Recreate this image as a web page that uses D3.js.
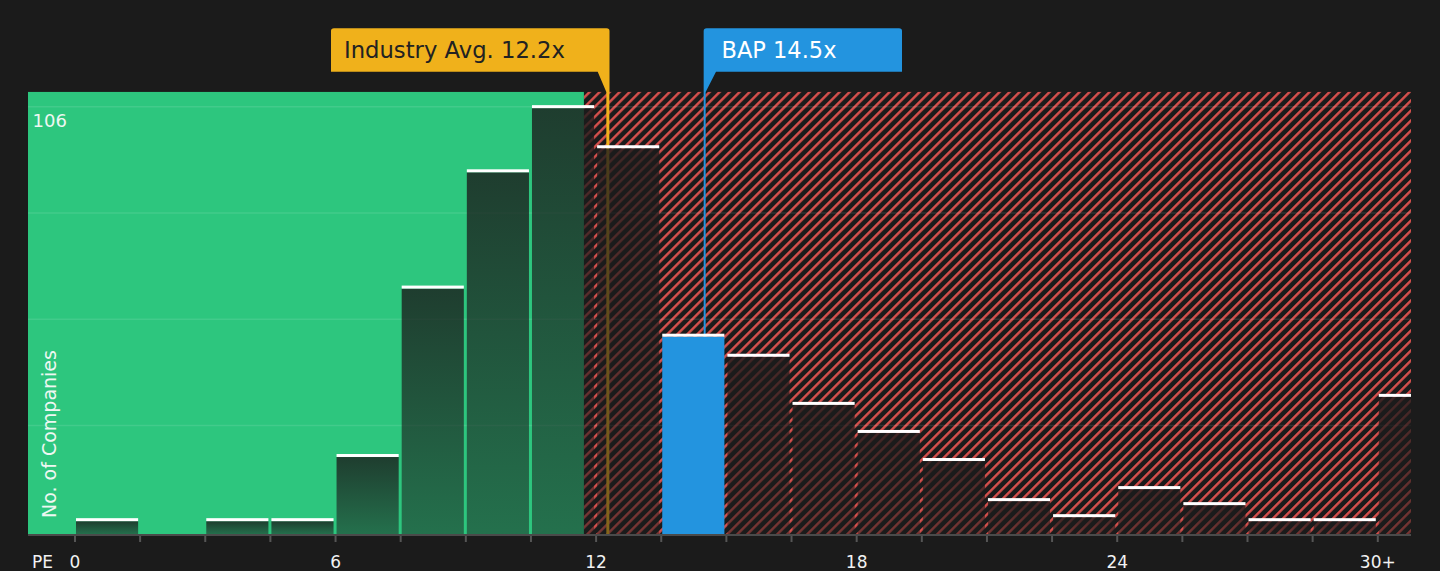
<!DOCTYPE html>
<html>
<head>
<meta charset="utf-8">
<script src="https://cdn.jsdelivr.net/npm/d3@7"></script>
<style>
  html, body { margin: 0; padding: 0; background: #1b1b1b; }
  svg { display: block; }
  text { font-family: "DejaVu Sans", sans-serif; }
</style>
</head>
<body>
<script>
// ---- data ----
const binStarts = [0,1.5,3,4.5,6,7.5,9,10.5,12,13.5,15,16.5,18,19.5,21,22.5,24,25.5,27,28.5,30];
const counts    = [3,0,3,3,19,61,90,106,96,49,44,32,25,18,8,4,11,7,3,3,34];
const binWidth = 1.5;
const tickValues = [0,6,12,18,24,30];
const tickLabels = ["0","6","12","18","24","30+"];
const industryAvg = 12.27;
const industryLabel = "Industry Avg. 12.2x";
const companyPE = 14.5;
const companyLabel = "BAP 14.5x";
const companyBinIndex = 9;
const fairThreshold = 11.72;
const yMaxLabel = 106;
const yAxisTitle = "No. of Companies";
const xAxisTitle = "PE";

// ---- layout ----
const W = 1440, H = 571;
const plot = { left: 28, right: 1411, top: 91.7, bottom: 533.2 };

const svg = d3.select("body").append("svg").attr("width", W).attr("height", H);
svg.append("rect").attr("width", W).attr("height", H).attr("fill", "#1b1b1b");

const x = d3.scaleLinear().domain([-1.082, 30.765]).range([plot.left, plot.right]);
const y = d3.scaleLinear().domain([0, 110.1]).range([plot.bottom, plot.top]);

const defs = svg.append("defs");
defs.append("clipPath").attr("id", "plotclip")
  .append("rect").attr("x", plot.left).attr("y", plot.top)
  .attr("width", plot.right - plot.left).attr("height", 536 - plot.top);

const pat = defs.append("pattern").attr("id", "hatch")
  .attr("patternUnits", "userSpaceOnUse").attr("width", 7.07).attr("height", 7.07)
  .attr("patternTransform", "rotate(45)");
pat.append("rect").attr("width", 7.07).attr("height", 7.07).attr("fill", "#1b1b1b");
pat.append("rect").attr("x", 0).attr("y", 0).attr("width", 2.4).attr("height", 7.07).attr("fill", "#d9504d");

const grad = defs.append("linearGradient").attr("id", "barGrad")
  .attr("x1", 0).attr("y1", 0).attr("x2", 0).attr("y2", 1);
grad.append("stop").attr("offset", "0%").attr("stop-color", "#1b1b1b").attr("stop-opacity", 0.8);
grad.append("stop").attr("offset", "100%").attr("stop-color", "#1b1b1b").attr("stop-opacity", 0.5);

const g = svg.append("g").attr("clip-path", "url(#plotclip)");

// background regions
g.append("rect").attr("x", plot.left).attr("y", plot.top)
  .attr("width", x(fairThreshold) - plot.left).attr("height", 534.5 - plot.top)
  .attr("fill", "#2dc67e");
g.append("rect").attr("x", x(fairThreshold)).attr("y", plot.top)
  .attr("width", plot.right - x(fairThreshold)).attr("height", 534.5 - plot.top)
  .attr("fill", "url(#hatch)");

// gridlines
const gridVals = [1,2,3,4].map(i => yMaxLabel * i / 4);
g.selectAll("line.grid").data(gridVals).enter().append("line")
  .attr("x1", plot.left).attr("x2", plot.right)
  .attr("y1", d => y(d) - 1.5).attr("y2", d => y(d) - 1.5)
  .attr("stroke", "#ffffff").attr("stroke-opacity", 0.1).attr("stroke-width", 1.5);

// industry average line (under bars)
g.append("line")
  .attr("x1", x(industryAvg)).attr("x2", x(industryAvg))
  .attr("y1", plot.top).attr("y2", 534.5)
  .attr("stroke", "#f0b11b").attr("stroke-width", 3);

// company line
g.append("line")
  .attr("x1", x(companyPE)).attr("x2", x(companyPE))
  .attr("y1", plot.top).attr("y2", y(counts[companyBinIndex]))
  .attr("stroke", "#2394df").attr("stroke-width", 2);

// bars
const bins = binStarts.map((b, i) => ({ b, v: counts[i], i }));
const shown = bins.filter(d => d.v > 0);
g.selectAll("rect.bar").data(shown).enter().append("rect")
  .attr("x", d => x(d.b) + 1)
  .attr("width", d => x(d.b + binWidth) - x(d.b) - 3)
  .attr("y", d => y(d.v))
  .attr("height", d => y(0) + 1.3 - y(d.v))
  .attr("fill", d => d.i === companyBinIndex ? "#2394df" : "url(#barGrad)");

g.selectAll("rect.top").data(shown).enter().append("rect")
  .attr("x", d => x(d.b) + 1)
  .attr("width", d => x(d.b + binWidth) - x(d.b) - 3)
  .attr("y", d => y(d.v) - 3)
  .attr("height", 3)
  .attr("fill", "#ffffff");

// axis
svg.append("line").attr("x1", plot.left).attr("x2", plot.right)
  .attr("y1", 535).attr("y2", 535).attr("stroke", "#4a4a4a").attr("stroke-width", 2);
svg.selectAll("line.tick").data(binStarts).enter().append("line")
  .attr("x1", d => x(d)).attr("x2", d => x(d))
  .attr("y1", 536).attr("y2", 542)
  .attr("stroke", "#555555").attr("stroke-width", 2);
svg.selectAll("text.tl").data(tickValues).enter().append("text")
  .attr("x", d => x(d)).attr("y", 567.5)
  .attr("text-anchor", "middle").attr("font-size", 17).attr("fill", "#f2f2f2")
  .text((d, i) => tickLabels[i]);
svg.append("text").attr("x", 32).attr("y", 567.5).attr("font-size", 17)
  .attr("fill", "#f2f2f2").text(xAxisTitle);

// y labels
svg.append("text").attr("x", 32.5).attr("y", 126.7).attr("font-size", 18)
  .attr("fill", "#eef7f2").text(yMaxLabel);
svg.append("text").attr("transform", "translate(55.5,518) rotate(-90)")
  .attr("font-size", 19).attr("fill", "#eef7f2").text(yAxisTitle);

// annotations
const ax = x(industryAvg);
const ann1 = svg.append("g");
ann1.append("path")
  .attr("d", `M331,71.7 L331,31 Q331,28.3 334,28.3 L606.5,28.3 Q609.5,28.3 609.5,31 L609.5,92 L${ax - 1.5},92 L597.7,71.7 Z`)
  .attr("fill", "#f0b11b");
ann1.append("text").attr("x", 344).attr("y", 57.5).attr("font-size", 22.7)
  .attr("fill", "#222222").text(industryLabel);

const bx = x(companyPE);
const ann2 = svg.append("g");
ann2.append("path")
  .attr("d", `M${bx - 1},92 L${bx - 1},31 Q${bx - 1},28.3 ${bx + 2},28.3 L899,28.3 Q902,28.3 902,31 L902,71.7 L716,71.7 L${bx + 1},92 Z`)
  .attr("fill", "#2394df");
ann2.append("text").attr("x", 721.5).attr("y", 57.7).attr("font-size", 22.5)
  .attr("fill", "#ffffff").text(companyLabel);
</script>
</body>
</html>
